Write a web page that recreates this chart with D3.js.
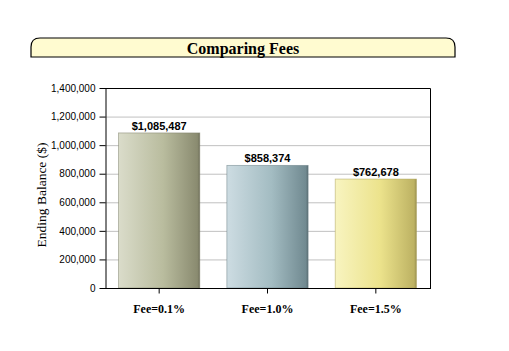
<!DOCTYPE html>
<html><head><meta charset="utf-8">
<script src="https://cdn.jsdelivr.net/npm/d3@7"></script>
<style>body{margin:0;background:#fff}svg{display:block}</style>
</head><body>
<script>
const categories = ["Fee=0.1%", "Fee=1.0%", "Fee=1.5%"];
const values = [1085487, 858374, 762678];
const valueLabels = ["$1,085,487", "$858,374", "$762,678"];
const yTicks = [0, 200000, 400000, 600000, 800000, 1000000, 1200000, 1400000];
const title = "Comparing Fees";
const yTitle = "Ending Balance ($)";
const barGradients = [
  ["#dadcca", "#b9bc9e", "#8a8b70"],
  ["#cddce2", "#a3bcc2", "#718a91"],
  ["#f8f4c0", "#ece38c", "#bdb263"]
];

const W = 509, H = 351;
const svg = d3.select("body").append("svg").attr("width", W).attr("height", H);
const m = {left: 105, right: 430, top: 88, bottom: 288};

const defs = svg.append("defs");
barGradients.forEach((g, i) => {
  const lg = defs.append("linearGradient").attr("id", "g" + i).attr("x1", "0").attr("x2", "1").attr("y1", "0").attr("y2", "0");
  lg.append("stop").attr("offset", "0").attr("stop-color", g[0]);
  lg.append("stop").attr("offset", "0.55").attr("stop-color", g[1]);
  lg.append("stop").attr("offset", "0.97").attr("stop-color", g[2]);
  lg.append("stop").attr("offset", "1").attr("stop-color", d3.color(g[2]).darker(0.6));
});

// Title tab
const tx0 = 31, tx1 = 455, ty0 = 38, ty1 = 57, r = 9;
svg.append("path")
  .attr("d", `M${tx0},${ty1} L${tx0},${ty0 + r} Q${tx0},${ty0} ${tx0 + r},${ty0} L${tx1 - r},${ty0} Q${tx1},${ty0} ${tx1},${ty0 + r} L${tx1},${ty1} Z`)
  .attr("fill", "#fffbd0").attr("stroke", "#000").attr("stroke-width", 1.2);
svg.append("text").attr("x", 243).attr("y", 53.5).attr("text-anchor", "middle")
  .attr("font-family", "Liberation Serif, Times New Roman, serif").attr("font-weight", "bold").attr("font-size", 16)
  .text(title);

const x = d3.scaleBand().domain(categories).range([m.left, m.right]).paddingInner(0.25).paddingOuter(0.125);
const y = d3.scaleLinear().domain([0, 1400000]).range([m.bottom, m.top]);

// grid
svg.append("g").selectAll("line").data(yTicks.slice(1, -1)).join("line")
  .attr("x1", m.left).attr("x2", m.right).attr("y1", d => y(d) + 0.5).attr("y2", d => y(d) + 0.5)
  .attr("stroke", "#c0c0c0");

// frame top/right
svg.append("path").attr("d", `M${m.left},${m.top + 0.5} H${m.right + 0.5} V${m.bottom}`)
  .attr("fill", "none").attr("stroke", "#000");

// bars
svg.append("g").selectAll("rect").data(values).join("rect")
  .attr("x", (d, i) => x(categories[i]))
  .attr("y", d => y(d))
  .attr("width", x.bandwidth())
  .attr("height", d => y(0) - y(d))
  .attr("fill", (d, i) => `url(#g${i})`)
  .attr("stroke", (d, i) => d3.color(barGradients[i][2]).darker(0.3))
  .attr("stroke-width", 0.8)
  .attr("stroke-opacity", 0.6);

// value labels
svg.append("g").selectAll("text").data(values).join("text")
  .attr("x", (d, i) => x(categories[i]) + x.bandwidth() / 2)
  .attr("y", d => y(d) - 3)
  .attr("text-anchor", "middle")
  .attr("font-family", "Liberation Sans, Arial, sans-serif").attr("font-weight", "bold").attr("font-size", 11)
  .text((d, i) => valueLabels[i]);

// y axis
const ya = svg.append("g").attr("transform", `translate(${m.left + 0.5},0)`)
  .call(d3.axisLeft(y).tickValues(yTicks).tickFormat(d3.format(",")).tickSize(6).tickSizeOuter(0));
ya.select(".domain").attr("stroke", "#000");
ya.selectAll("text").attr("font-family", "Liberation Sans, Arial, sans-serif").attr("font-size", 10).attr("fill", "#000").attr("dx", "-1");

// x axis
const xa = svg.append("g").attr("transform", `translate(0,${m.bottom + 0.5})`)
  .call(d3.axisBottom(x).tickSize(5).tickSizeOuter(0));
xa.select(".domain").attr("stroke", "#000").attr("d", `M${m.left},0H${m.right + 1}`);
xa.selectAll("text").attr("font-family", "Liberation Serif, Times New Roman, serif").attr("font-weight", "bold")
  .attr("font-size", 12).attr("fill", "#000").attr("dy", "0").attr("y", 24);

// y title
svg.append("text").attr("transform", `translate(46,195) rotate(-90)`)
  .attr("text-anchor", "middle")
  .attr("font-family", "Liberation Serif, Times New Roman, serif").attr("font-size", 13.5)
  .text(yTitle);
</script>
</body></html>
